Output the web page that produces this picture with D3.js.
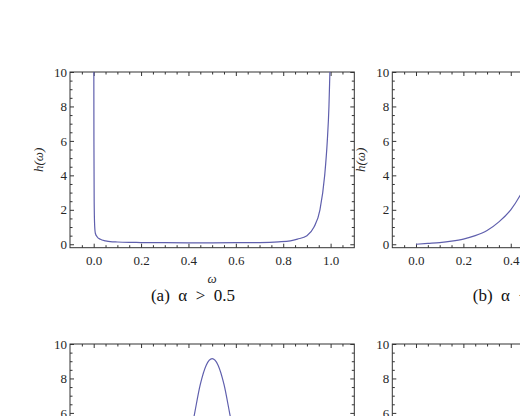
<!DOCTYPE html>
<html>
<head>
<meta charset="utf-8">
<script src="https://cdn.jsdelivr.net/npm/d3@7/dist/d3.min.js"></script>
<style>
  body { margin: 0; background: #fff; }
  text { font-family: "Liberation Serif", "DejaVu Serif", serif; }
</style>
</head>
<body>
<svg id="chart"></svg>
<script>
// values
var omegaA = [0.0005, 0.001, 0.002, 0.004, 0.007, 0.015, 0.028, 0.05, 0.07, 0.1, 0.15, 0.2, 0.3, 0.4, 0.5, 0.6, 0.7, 0.78, 0.83, 0.86, 0.9, 0.93, 0.955, 0.975, 0.986, 0.993, 0.997, 0.999];
var hA     = [11, 6, 2.5, 1.1, 0.64, 0.42, 0.29, 0.2, 0.15, 0.13, 0.11, 0.1, 0.09, 0.085, 0.085, 0.09, 0.1, 0.14, 0.2, 0.3, 0.5, 1.0, 2.0, 4.0, 6.0, 8.0, 10.0, 11];

var omegaB = [0, 0.05, 0.1, 0.15, 0.2, 0.25, 0.3, 0.35, 0.4, 0.45, 0.5];
var hB     = [0.0, 0.05, 0.1, 0.18, 0.3, 0.5, 0.8, 1.3, 2.0, 3.1, 4.6];

var omegaC = [0.3, 0.35, 0.4, 0.425, 0.45, 0.475, 0.5, 0.525, 0.55, 0.575, 0.6, 0.65, 0.7];
var hC     = [0.3, 1.3, 4.1, 5.9, 7.65, 8.77, 9.15, 8.77, 7.65, 5.9, 4.1, 1.3, 0.3];

var xMajor = [0.0, 0.2, 0.4, 0.6, 0.8, 1.0];
var yMajor = [0, 2, 4, 6, 8, 10];
// en spaces stand in for LaTeX math spacing
var captions = ["(a)\u2002\u03b1\u2002>\u20020.5", "(b)\u2002\u03b1\u2002<\u20020.5", "(c)\u2002\u03b1\u2002=\u20020.5", "(d)"];

var svgWidth = 520;
var svgHeight = 416;
var plotW = 284.3;
var plotH = 175.7;
var lineColor = "#5f5fad";
var frameColor = "#333";

var svg = d3.select("#chart")
  .attr("width", svgWidth)
  .attr("height", svgHeight);

svg.append("rect").attr("width", svgWidth).attr("height", svgHeight).attr("fill", "#fff");

var x = d3.scaleLinear().domain([-0.1, 1.1]).range([0, plotW]);
var y = d3.scaleLinear().domain([-0.2, 10]).range([plotH, 0]);

var xMinor = d3.range(-0.05, 1.1, 0.05).filter(v => Math.abs(v * 5 - Math.round(v * 5)) > 1e-6);
var yMinor = d3.range(0, 10.01, 0.5).filter(v => v % 2 !== 0);

function zip(a, b) {
  return a.map((v, i) => [v, b[i]]);
}

function drawPanel(left, top, series, caption, idx) {
  var g = svg.append("g").attr("transform", `translate(${left}, ${top})`);

  g.append("clipPath").attr("id", "clip" + idx)
    .append("rect").attr("width", plotW).attr("height", plotH);

  // ticks: major with labels on bottom/left, mirrored inward ticks on top/right
  function styleAxis(sel) {
    sel.select(".domain").remove();
    sel.selectAll("line").attr("stroke", frameColor);
    sel.selectAll("text").attr("fill", "#262626").style("font-size", "13px");
  }

  g.append("g").attr("transform", `translate(0, ${plotH})`)
    .call(d3.axisBottom(x).tickValues(xMajor).tickSize(-4).tickPadding(8).tickFormat(d3.format(".1f")))
    .call(styleAxis);
  g.append("g").attr("transform", `translate(0, ${plotH})`)
    .call(d3.axisBottom(x).tickValues(xMinor).tickSize(-2.5).tickFormat(""))
    .call(styleAxis);
  g.append("g")
    .call(d3.axisTop(x).tickValues(xMajor).tickSize(-4).tickFormat(""))
    .call(styleAxis);
  g.append("g")
    .call(d3.axisTop(x).tickValues(xMinor).tickSize(-2.5).tickFormat(""))
    .call(styleAxis);

  g.append("g")
    .call(d3.axisLeft(y).tickValues(yMajor).tickSize(-4).tickPadding(3))
    .call(styleAxis);
  g.append("g")
    .call(d3.axisLeft(y).tickValues(yMinor).tickSize(-2.5).tickFormat(""))
    .call(styleAxis);
  g.append("g").attr("transform", `translate(${plotW}, 0)`)
    .call(d3.axisRight(y).tickValues(yMajor).tickSize(-4).tickFormat(""))
    .call(styleAxis);
  g.append("g").attr("transform", `translate(${plotW}, 0)`)
    .call(d3.axisRight(y).tickValues(yMinor).tickSize(-2.5).tickFormat(""))
    .call(styleAxis);

  g.append("rect")
    .attr("width", plotW).attr("height", plotH)
    .attr("fill", "none").attr("stroke", frameColor).attr("stroke-width", 1);

  if (series) {
    var line = d3.line()
      .x(d => x(d[0]))
      .y(d => y(d[1]))
      .curve(d3.curveMonotoneX);
    g.append("path")
      .datum(series)
      .attr("clip-path", `url(#clip${idx})`)
      .attr("d", line)
      .attr("fill", "none")
      .attr("stroke", lineColor)
      .attr("stroke-width", 1.2);
  }

  // axis labels
  g.append("text")
    .attr("transform", `translate(-27, ${plotH / 2}) rotate(-90)`)
    .attr("text-anchor", "middle")
    .style("font-size", "13px")
    .style("font-style", "italic")
    .attr("fill", "#262626")
    .text("h(\u03c9)");

  g.append("text")
    .attr("x", plotW / 2)
    .attr("y", plotH + 35)
    .attr("text-anchor", "middle")
    .style("font-size", "13px")
    .style("font-style", "italic")
    .attr("fill", "#262626")
    .text("\u03c9");

  // subfigure caption, centred under the subfigure including its y label
  g.append("text")
    .attr("x", 123)
    .attr("y", plotH + 53)
    .attr("text-anchor", "middle")
    .style("font-size", "17px")
    .attr("fill", "#111")
    .text(caption);
}

drawPanel(70, 72, zip(omegaA, hA), captions[0], 0);
drawPanel(392.3, 72, zip(omegaB, hB), captions[1], 1);
drawPanel(70, 344, zip(omegaC, hC), captions[2], 2);
drawPanel(392.3, 344, null, captions[3], 3);
</script>
</body>
</html>
